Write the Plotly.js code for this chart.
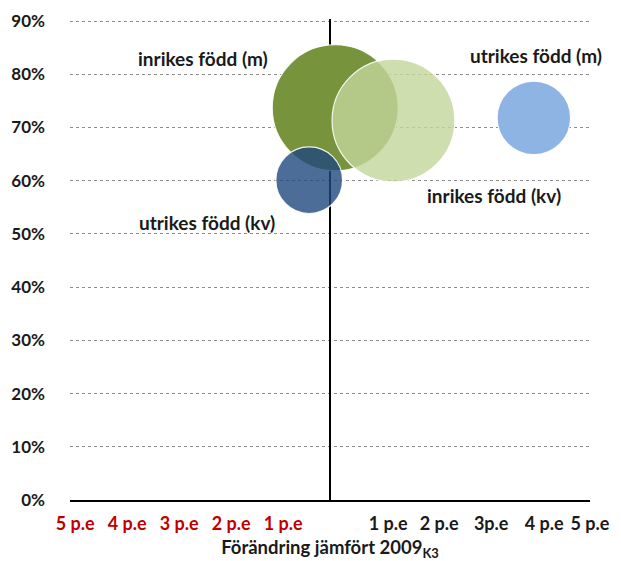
<!DOCTYPE html>
<html>
<head>
<meta charset="utf-8">
<script src="https://cdn.plot.ly/plotly-3.0.1.min.js"></script>
<style>
  html, body { margin: 0; padding: 0; background: #fff; }
  #chart { width: 621px; height: 561px; }
</style>
</head>
<body>
<div id="chart"></div>
<script>
// Sysselsättningsgrad vs förändring mot 2009 K3

var seriesNames = ['inrikes född (m)', 'inrikes född (kv)', 'utrikes född (m)', 'utrikes född (kv)'];
var change = [0.1, 1.22, 3.92, -0.4];      // p.e. change vs 2009 K3
var share = [73.7, 71.3, 71.8, 60.1];       // percent
var bubbleSize = [100, 95, 34, 28];         // relative bubble value

var tickPos = [-4.9, -3.9, -2.9, -1.9, -0.9, 1.12, 2.1, 3.1, 4.12, 5];
var tickLabels = ['5 p.e', '4 p.e', '3 p.e', '2 p.e', '1 p.e', '1 p.e', '2 p.e', '3p.e', '4 p.e', '5 p.e'];
var yTicks = [0, 10, 20, 30, 40, 50, 60, 70, 80, 90];

var colors = ['rgba(119,147,60,1)', 'rgba(195,214,155,0.8)', 'rgba(142,180,227,1)', 'rgba(31,73,125,0.8)'];
var labelPos = [[-2.44, 82.9], [3.15, 57.3], [3.97, 83.6], [-2.37, 52.2]];

var font = 'Lato, "Open Sans", sans-serif';
// biggest bubble ~126px across
var sizeref = 2 * Math.max.apply(null, bubbleSize) / (126 * 126);

var data = seriesNames.map(function (name, i) {
    return {
        x: [change[i]],
        y: [share[i]],
        name: name,
        type: 'scatter',
        mode: 'markers',
        marker: {
            size: [bubbleSize[i]],
            sizemode: 'area',
            sizeref: sizeref,
            opacity: 1,
            color: colors[i],
            line: { color: 'rgba(255,255,255,0.9)', width: 1.2 }
        },
        hoverinfo: 'name'
    };
});

var annotations = seriesNames.map(function (name, i) {
    return {
        x: labelPos[i][0],
        y: labelPos[i][1],
        xref: 'x',
        yref: 'y',
        text: name,
        showarrow: false,
        font: { family: font, size: 19, color: '#1a1a1a', weight: 'bold' }
    };
});

var layout = {
    width: 621,
    height: 561,
    margin: { l: 70, r: 31, t: 19, b: 61 },
    paper_bgcolor: '#fff',
    plot_bgcolor: '#fff',
    showlegend: false,
    font: { family: font, size: 17, color: '#1a1a1a', weight: 'bold' },
    xaxis: {
        range: [-5, 5],
        tickmode: 'array',
        tickvals: tickPos,
        ticktext: tickLabels.map(function (t, i) {
            return tickPos[i] < 0 ? '<span style="color:#c00000">' + t + '</span>' : t;
        }),
        tickfont: { family: font, size: 18, color: '#1a1a1a', weight: 'bold' },
        showgrid: false,
        zeroline: true,
        zerolinecolor: '#000',
        zerolinewidth: 1.5,
        showline: true,
        linecolor: '#000',
        linewidth: 1.5,
        ticks: '',
        ticklabelstandoff: 7,
        title: {
            text: 'Förändring jämfört 2009<sub>K3</sub>',
            font: { family: font, size: 18.5, color: '#1a1a1a', weight: 'bold' },
            standoff: 10
        }
    },
    yaxis: {
        range: [0, 90.38],
        tickmode: 'array',
        tickvals: yTicks,
        ticktext: yTicks.map(function (v) { return v + '%'; }),
        showgrid: true,
        gridcolor: '#8c8c8c',
        griddash: 'dot',
        gridwidth: 1,
        zeroline: false,
        showline: false,
        ticks: '',
        ticklabelstandoff: 24
    },
    annotations: annotations
};

Plotly.newPlot('chart', data, layout, { displayModeBar: false, staticPlot: true });
</script>
</body>
</html>
